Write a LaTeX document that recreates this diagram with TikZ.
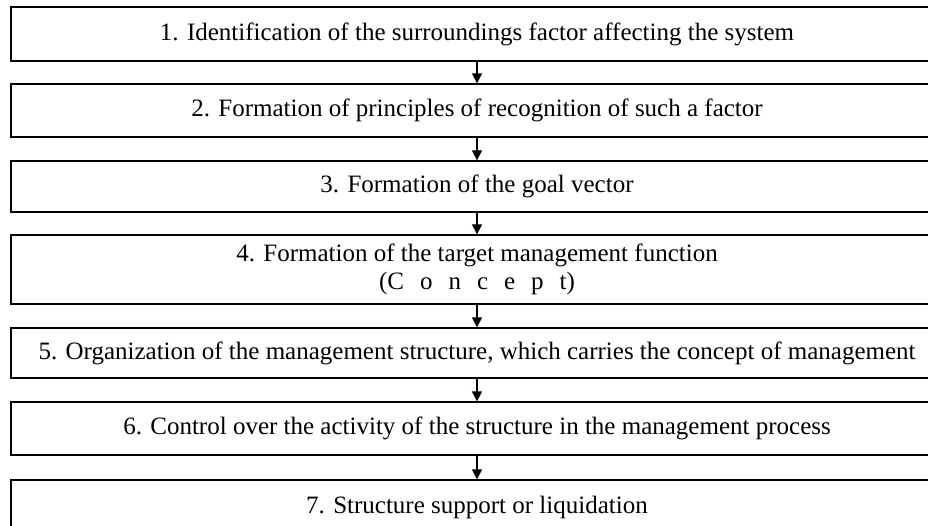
\documentclass[tikz,border=0pt]{standalone}
\usepackage{fontspec}
\setmainfont{Liberation Serif}
\usetikzlibrary{arrows.meta}

\newcommand{\csp}{\hspace{16pt}}

\tikzset{
  stage/.style={draw, line width=1.3pt, minimum width=932pt, inner sep=0pt,
    align=center, font=\fontsize{25}{28}\selectfont},
  arr/.style={line width=1.3pt, -{Triangle[length=10pt,width=10pt]}}
}

\begin{document}
\begin{tikzpicture}[x=1pt,y=-1pt]
\useasboundingbox (0,0) rectangle (928,526);

\node[stage, minimum height=54pt] (s1) at (477,34) {1. Identification of the surroundings factor affecting the system};
\node[stage, minimum height=53pt] (s2) at (477,110.5) {2. Formation of principles of recognition of such a factor};
\node[stage, minimum height=51pt] (s3) at (477,186.5) {3. Formation of the goal vector};
\node[stage, minimum height=69pt] (s4) at (477,269.5) {4. Formation of the target management function\\(C\csp o\csp n\csp c\csp e\csp p\csp t)};
\node[stage, minimum height=50pt] (s5) at (477,353) {5. Organization of the management structure, which carries the concept of management};
\node[stage, minimum height=53pt] (s6) at (477,428.5) {6. Control over the activity of the structure in the management process};
\node[stage, minimum height=54pt] (s7) at (477,507) {7. Structure support or liquidation};

\foreach \a/\b in {s1/s2,s2/s3,s3/s4,s4/s5,s5/s6,s6/s7}{
	\draw[arr] (\a.south) -- (\b.north);
	}
\end{tikzpicture}
\end{document}
